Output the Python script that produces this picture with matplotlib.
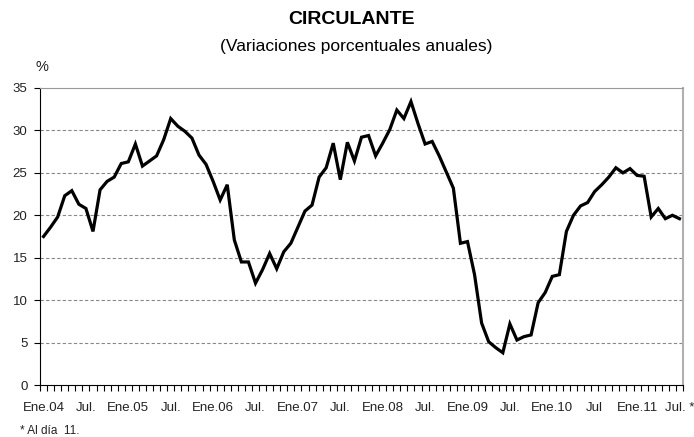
import matplotlib.pyplot as plt
import numpy as np

plt.rcParams['font.family'] = ['Liberation Sans', 'DejaVu Sans']

# variaciones porcentuales anuales del circulante, mensual Ene.04 - Jul.11
vals_2004 = [17.5, 18.6, 19.8, 22.3, 22.9, 21.3, 20.8, 18.1, 23.0, 24.0, 24.5, 26.1]
vals_2005 = [26.3, 28.4, 25.8, 26.4, 27.0, 28.9, 31.4, 30.5, 29.9, 29.1, 27.1, 26.0]
vals_2006 = [24.0, 21.8, 23.6, 17.1, 14.5, 14.5, 12.0, 13.6, 15.5, 13.7, 15.7, 16.7]
vals_2007 = [18.6, 20.5, 21.2, 24.5, 25.6, 28.5, 24.2, 28.6, 26.4, 29.2, 29.4, 27.0]
vals_2008 = [28.5, 30.1, 32.4, 31.4, 33.4, 30.8, 28.4, 28.7, 27.0, 25.1, 23.2, 16.7]
vals_2009 = [16.9, 13.0, 7.3, 5.1, 4.4, 3.8, 7.2, 5.3, 5.7, 5.9, 9.7, 10.9]
vals_2010 = [12.8, 13.0, 18.1, 20.0, 21.1, 21.5, 22.8, 23.6, 24.5, 25.6, 25.0, 25.5]
vals_2011 = [24.7, 24.6, 19.8, 20.8, 19.6, 20.0, 19.6]

tick_labels = ['Ene.04', 'Jul.', 'Ene.05', 'Jul.', 'Ene.06', 'Jul.', 'Ene.07', 'Jul.',
               'Ene.08', 'Jul.', 'Ene.09', 'Jul.', 'Ene.10', 'Jul', 'Ene.11', 'Jul. *']

values = vals_2004 + vals_2005 + vals_2006 + vals_2007 + vals_2008 + vals_2009 + vals_2010 + vals_2011
x = np.arange(len(values))

fig = plt.figure(figsize=(6.94, 4.37), dpi=100)
ax = fig.add_axes([40 / 694, 1 - 385 / 437, 643 / 694, 297 / 437])

ax.plot(x, values, color='black', linewidth=2.3, solid_joinstyle='miter')

# ejes
ax.set_xlim(-0.5, len(values) - 0.5)
ax.set_ylim(0, 35)
ax.set_yticks(range(0, 36, 5))
ax.tick_params(axis='y', length=4, width=0.8, pad=5, labelsize=9.5, labelcolor='#222222')

ax.set_xticks(np.arange(0, len(values), 6))
ax.set_xticklabels(tick_labels)
ax.set_xticks(np.arange(-0.5, len(values), 1), minor=True)
ax.tick_params(axis='x', which='major', length=0, pad=12, labelsize=9.5, labelcolor='#222222')
ax.tick_params(axis='x', which='minor', length=4, width=0.8)

for y in range(5, 35, 5):
    ax.axhline(y, color='#888888', linewidth=0.8, linestyle=(0, (3, 2)), zorder=0)

ax.spines['left'].set_color('black')
ax.spines['bottom'].set_color('black')
ax.spines['top'].set_color('#999999')
ax.spines['right'].set_color('#b0b0b0')
ax.spines['right'].set_linewidth(1.5)

# titulos y notas
fig.text(352 / 694, 1 - 19 / 437, 'CIRCULANTE', ha='center', va='center', fontsize=14, fontweight='bold')
fig.text(356 / 694, 1 - 46 / 437, '(Variaciones porcentuales anuales)', ha='center', va='center', fontsize=12.5)
fig.text(42 / 694, 1 - 67 / 437, '%', ha='center', va='center', fontsize=10.5, color='#222222')
fig.text(20 / 694, 1 - 431 / 437, '* Al día  11.', ha='left', va='center', fontsize=8.5, color='#222222')

plt.savefig('out.png', dpi=100)
